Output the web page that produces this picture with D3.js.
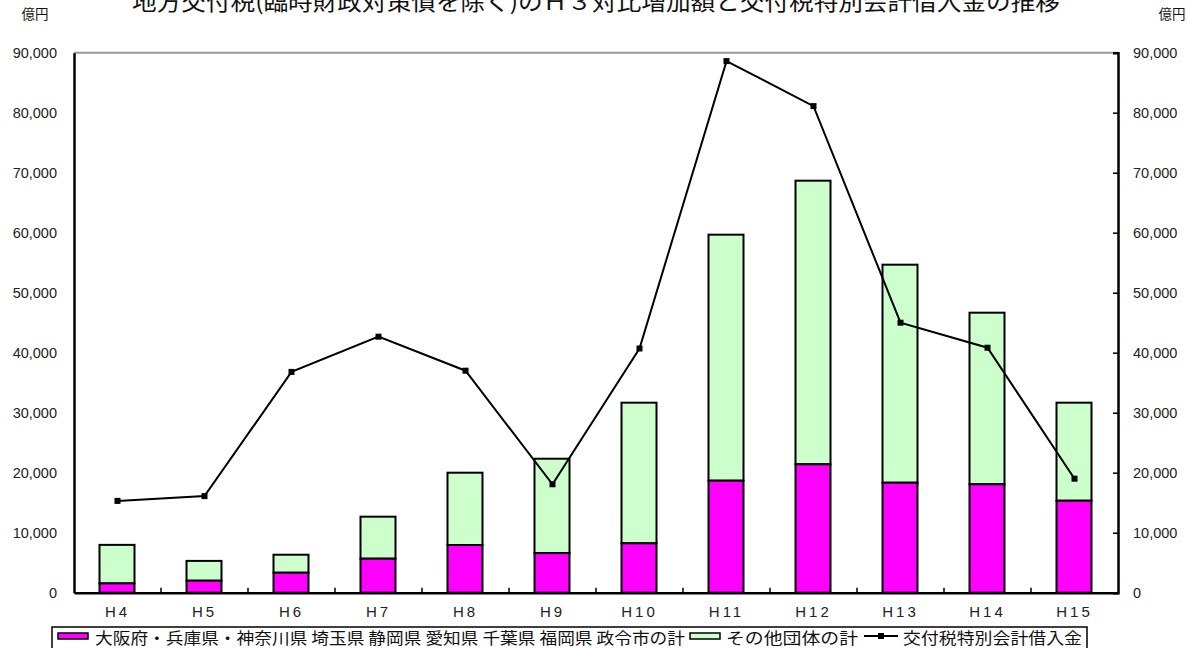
<!DOCTYPE html>
<html><head><meta charset="utf-8">
<script src="https://cdn.jsdelivr.net/npm/d3@7"></script>
<style>body{margin:0;background:#fff;}svg{display:block;}</style>
</head><body>
<svg id="c" width="1188" height="648"></svg>
<script>
const categories = ["H4","H5","H6","H7","H8","H9","H10","H11","H12","H13","H14","H15"];
const majorCities = [1.55,2.0,3.33,5.67,7.95,6.6,8.23,18.67,21.4,18.33,18.07,15.33].map(v=>v*1000);
const otherTotal = [7.97,5.3,6.33,12.67,20.0,22.33,31.67,59.67,68.67,54.67,46.67,31.67].map(v=>v*1000);
const borrowing = [15.3,16.1,36.8,42.67,37.0,18.07,40.7,88.6,81.1,45.0,40.83,19.0].map(v=>v*1000);
const yTicks = [0,10000,20000,30000,40000,50000,60000,70000,80000,90000];
const title = "地方交付税(臨時財政対策債を除く)のＨ３対比増加額と交付税特別会計借入金の推移";
const legendLabels = ["大阪府・兵庫県・神奈川県 埼玉県 静岡県 愛知県 千葉県 福岡県 政令市の計","その他団体の計","交付税特別会計借入金"];
const unit = "億円";

const svg = d3.select("#c");
const L=74, R=1118, T=52.7, B=592.7;
const x = d3.scaleBand().domain(categories).range([L,R]).padding(0);
const y = d3.scaleLinear().domain([0,90000]).range([B,T]);
const fmt = d3.format(",");
const jp = "'Noto Sans CJK JP','Noto Sans',sans-serif";
const num = "'Liberation Sans',Arial,sans-serif";

// title (cropped at top, as in the reference)
svg.append("text").attr("x",596).attr("y",10).attr("text-anchor","middle")
  .attr("font-family",jp).attr("font-size",23).attr("fill","#111")
  .attr("textLength",928).attr("lengthAdjust","spacingAndGlyphs").text(title);
svg.append("text").attr("x",35).attr("y",19).attr("text-anchor","middle")
  .attr("font-family",jp).attr("font-size",13.5).attr("fill","#111").text(unit);
svg.append("text").attr("x",1172).attr("y",19).attr("text-anchor","middle")
  .attr("font-family",jp).attr("font-size",13.5).attr("fill","#111").text(unit);

// bars
const bw = 35;
const bars = svg.append("g");
categories.forEach((c,i)=>{
  const cx = x(c)+x.bandwidth()/2 - 0.5;
  bars.append("rect").attr("x",cx-bw/2).attr("width",bw)
    .attr("y",y(otherTotal[i])).attr("height",y(majorCities[i])-y(otherTotal[i]))
    .attr("fill","#ccffcc").attr("stroke","#000").attr("stroke-width",2);
  bars.append("rect").attr("x",cx-bw/2).attr("width",bw)
    .attr("y",y(majorCities[i])).attr("height",B-y(majorCities[i]))
    .attr("fill","#ff00ff").attr("stroke","#000").attr("stroke-width",2);
});

// frame top
svg.append("line").attr("x1",L).attr("x2",R).attr("y1",T).attr("y2",T).attr("stroke","#999").attr("stroke-width",2);

// left axis
const ga = svg.append("g").attr("transform",`translate(${L},0)`)
  .call(d3.axisLeft(y).tickValues(yTicks).tickSize(0).tickPadding(17).tickFormat(fmt));
ga.select(".domain").attr("stroke","#000").attr("stroke-width",2.5);
ga.selectAll("text").attr("font-family",num).attr("font-size",14.5).attr("fill","#222");

// right axis
const gr = svg.append("g").attr("transform",`translate(${R},0)`)
  .call(d3.axisRight(y).tickValues(yTicks).tickSize(-5).tickPadding(15).tickFormat(fmt));
gr.select(".domain").attr("stroke","#000").attr("stroke-width",2.5);
gr.selectAll("line").attr("stroke","#000").attr("stroke-width",1.5);
gr.selectAll("text").attr("font-family",num).attr("font-size",14.5).attr("fill","#222");

// bottom axis
const gb = svg.append("g").attr("transform",`translate(0,${B})`)
  .call(d3.axisBottom(x).tickSize(0).tickPadding(14));
gb.select(".domain").attr("stroke","#000").attr("stroke-width",2.5);
gb.selectAll("text").attr("font-family",num).attr("font-size",15).attr("fill","#222").attr("letter-spacing",3);
// ticks between categories (inward)
svg.append("g").selectAll("line").data(categories.slice(1)).join("line")
  .attr("x1",d=>x(d)).attr("x2",d=>x(d)).attr("y1",B).attr("y2",B-5)
  .attr("stroke","#000").attr("stroke-width",1.5);

// line
const px = (d,i)=>x(categories[i])+x.bandwidth()/2;
svg.append("path").datum(borrowing)
  .attr("d",d3.line().x(px).y(d=>y(d)))
  .attr("fill","none").attr("stroke","#000").attr("stroke-width",2);
svg.append("g").selectAll("rect").data(borrowing).join("rect")
  .attr("x",(d,i)=>px(d,i)-3).attr("y",d=>y(d)-3).attr("width",6).attr("height",6).attr("fill","#000");

// legend
const lg = svg.append("g");
lg.append("rect").attr("x",52).attr("y",627).attr("width",1035).attr("height",30)
  .attr("fill","#fff").attr("stroke","#000").attr("stroke-width",1.5);
lg.append("rect").attr("x",58).attr("y",633).attr("width",30).attr("height",6)
  .attr("fill","#ff00ff").attr("stroke","#000").attr("stroke-width",1.5);
lg.append("text").attr("x",95).attr("y",644).attr("font-family",jp).attr("font-size",16).attr("fill","#111")
  .attr("textLength",590).attr("lengthAdjust","spacingAndGlyphs").text(legendLabels[0]);
lg.append("rect").attr("x",690).attr("y",633).attr("width",30).attr("height",6)
  .attr("fill","#ccffcc").attr("stroke","#000").attr("stroke-width",1.5);
lg.append("text").attr("x",726).attr("y",644).attr("font-family",jp).attr("font-size",16).attr("fill","#111")
  .attr("textLength",132).attr("lengthAdjust","spacingAndGlyphs").text(legendLabels[1]);
lg.append("line").attr("x1",864).attr("x2",898).attr("y1",636).attr("y2",636).attr("stroke","#000").attr("stroke-width",2);
lg.append("rect").attr("x",878).attr("y",633).attr("width",6).attr("height",6).attr("fill","#000");
lg.append("text").attr("x",903).attr("y",644).attr("font-family",jp).attr("font-size",16).attr("fill","#111")
  .attr("textLength",179).attr("lengthAdjust","spacingAndGlyphs").text(legendLabels[2]);
</script>
</body></html>
